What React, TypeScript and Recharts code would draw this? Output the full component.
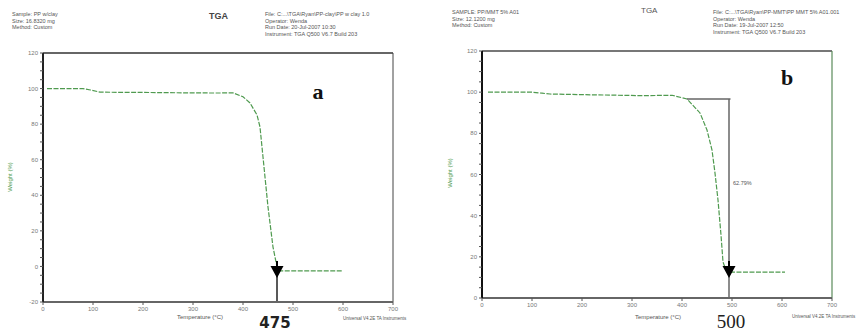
import { LineChart, Line, XAxis, YAxis, ReferenceLine, ReferenceDot } from "recharts"

const tempTicks = [0, 100, 200, 300, 400, 500, 600, 700]

// panel a
const tempA = [8, 40, 80, 95, 114, 150, 214, 280, 348, 380, 400, 414, 428, 434, 440, 450, 460, 468, 474, 500, 550, 598]
const weightA = [100, 100, 100, 99.2, 98.0, 97.9, 97.8, 97.6, 97.5, 97.6, 95.4, 91.9, 85.2, 78.4, 61.5, 33.4, 10.9, -0.3, -2.5, -2.5, -2.5, -2.5]
const weightTicksA = [-20, -15, -10, -5, 0, 5, 10, 15, 20, 25, 30, 35, 40, 45, 50, 55, 60, 65, 70, 75, 80, 85, 90, 95, 100, 105, 110, 115, 120]
const onsetA = 468

// panel b
const tempB = [12, 60, 100, 120, 136, 200, 322, 380, 410, 436, 450, 460, 466, 472, 478, 482, 488, 494, 506, 560, 606]
const weightB = [100, 100, 100, 99.5, 99.1, 98.8, 98.3, 98.5, 96.7, 89.9, 81.6, 71.9, 60.7, 47.6, 30.6, 17.5, 13.5, 12.6, 12.6, 12.6, 12.6]
const weightTicksB = [0, 5, 10, 15, 20, 25, 30, 35, 40, 45, 50, 55, 60, 65, 70, 75, 80, 85, 90, 95, 100, 105, 110, 115, 120]
const onsetB = 494
const lossTopB = 96.7

const dataA = tempA.map((t, i) => ({ t, w: weightA[i] }))
const dataB = tempB.map((t, i) => ({ t, w: weightB[i] }))

const green = "#4f9a4f"
const tickStyle = { fontSize: 6, fill: "#777", fontFamily: "Arial, sans-serif" }
const every20 = (v: number) => (v % 20 === 0 ? `${v}` : "")

const ArrowHead = (props: any) => {
  const { cx, cy } = props
  return <path d={`M${cx - 6.5},${cy - 12} L${cx + 6.5},${cy - 12} L${cx},${cy} Z M${cx - 1},${cy - 17} h2 v6 h-2 Z`} fill="#000" />
}

const small: React.CSSProperties = { position: "absolute", fontFamily: "Arial, sans-serif", fontSize: 5.5, color: "#555", lineHeight: "6.5px", whiteSpace: "nowrap" }

export default function App() {
  return (
    <div style={{ position: "fixed", left: 0, top: 0, width: 861, height: 331, background: "#fff", overflow: "hidden" }}>
      {/* headers */}
      <div style={{ ...small, left: 12, top: 11 }}>Sample: PP w/clay<br />Size: 16.8320 mg<br />Method: Custom</div>
      <div style={{ ...small, left: 209, top: 13, fontSize: 9, fontWeight: "bold", color: "#444" }}>TGA</div>
      <div style={{ ...small, left: 265, top: 11 }}>File: C:...\TGA\Ryan\PP-clay\PP w clay 1.0<br />Operator: Wenda<br />Run Date: 20-Jul-2007 10:30<br />Instrument: TGA Q500 V6.7 Build 203</div>

      <div style={{ ...small, left: 452, top: 9 }}>SAMPLE: PP/MMT 5% A01<br />Size: 12.1200 mg<br />Method: Custom</div>
      <div style={{ ...small, left: 641, top: 8, fontSize: 8, color: "#555" }}>TGA</div>
      <div style={{ ...small, left: 713, top: 9 }}>File: C:...\TGA\Ryan\PP-MMT\PP MMT 5% A01.001<br />Operator: Wenda<br />Run Date: 19-Jul-2007 12:50<br />Instrument: TGA Q500 V6.7 Build 203</div>

      <div style={{ position: "absolute", left: 0, top: 0 }}>
        <LineChart width={430} height={331} data={dataA} margin={{ top: 53, right: 37, bottom: 0, left: 0 }}>
          <XAxis dataKey="t" type="number" domain={[0, 700]} ticks={tempTicks} tick={tickStyle} tickSize={3}
            axisLine={{ stroke: "#666", strokeWidth: 2 }} tickLine={{ stroke: "#555" }} height={29} />
          <YAxis type="number" domain={[-20, 120]} ticks={weightTicksA} tickFormatter={every20} tick={tickStyle} tickSize={3}
            axisLine={{ stroke: "#222", strokeWidth: 2 }} tickLine={{ stroke: "#555" }} width={43} allowDataOverflow />
          <ReferenceLine y={120} stroke="#666" strokeWidth={2} />
          <ReferenceLine x={700} stroke="#444" strokeWidth={1} />
          <Line dataKey="w" stroke={green} strokeWidth={1.2} strokeDasharray="5 1.5" dot={false} isAnimationActive={false} />
          <ReferenceLine segment={[{ x: onsetA, y: 2 }, { x: onsetA, y: -20 }]} stroke="#222" strokeWidth={1.5} />
          <ReferenceDot x={onsetA} y={-6.5} shape={ArrowHead} />
        </LineChart>
      </div>

      <div style={{ position: "absolute", left: 430, top: 0 }}>
        <LineChart width={431} height={331} data={dataB} margin={{ top: 51, right: 29, bottom: 0, left: 0 }}>
          <XAxis dataKey="t" type="number" domain={[0, 700]} ticks={tempTicks} tick={tickStyle} tickSize={3}
            axisLine={{ stroke: "#666", strokeWidth: 2 }} tickLine={{ stroke: "#555" }} height={33} />
          <YAxis type="number" domain={[0, 120]} ticks={weightTicksB} tickFormatter={every20} tick={tickStyle} tickSize={3}
            axisLine={{ stroke: "#111", strokeWidth: 2 }} tickLine={{ stroke: "#555" }} width={52} />
          <ReferenceLine y={120} stroke="#777" strokeWidth={2} />
          <ReferenceLine x={700} stroke="#5a8a5a" strokeWidth={1.2} />
          <Line dataKey="w" stroke={green} strokeWidth={1.2} strokeDasharray="5 1.5" dot={false} isAnimationActive={false} />
          <ReferenceLine segment={[{ x: 410, y: lossTopB }, { x: onsetB + 3, y: lossTopB }]} stroke="#666" strokeWidth={1.5} />
          <ReferenceLine segment={[{ x: onsetB, y: lossTopB }, { x: onsetB, y: 0 }]} stroke="#666" strokeWidth={1.5} />
          <ReferenceDot x={onsetB} y={9.7} shape={ArrowHead} />
        </LineChart>
      </div>

      {/* axis titles */}
      <div style={{ ...small, left: 10, top: 177, fontSize: 6, color: green, transform: "translate(-50%,-50%) rotate(-90deg)" }}>Weight (%)</div>
      <div style={{ ...small, left: 450, top: 173, fontSize: 6, color: green, transform: "translate(-50%,-50%) rotate(-90deg)" }}>Weight (%)</div>
      <div style={{ ...small, left: 200, top: 317, fontSize: 6, transform: "translate(-50%,-50%)" }}>Temperature (°C)</div>
      <div style={{ ...small, left: 658, top: 317, fontSize: 6, transform: "translate(-50%,-50%)" }}>Temperature (°C)</div>
      <div style={{ ...small, left: 343, top: 316, fontSize: 4.5 }}>Universal V4.2E TA Instruments</div>
      <div style={{ ...small, left: 792, top: 314, fontSize: 4.5 }}>Universal V4.2E TA Instruments</div>

      {/* annotations */}
      <div style={{ position: "absolute", left: 318, top: 92, transform: "translate(-50%,-50%)", fontFamily: "'Liberation Serif', serif", fontWeight: "bold", fontSize: 22, color: "#111" }}>a</div>
      <div style={{ position: "absolute", left: 787, top: 78, transform: "translate(-50%,-50%)", fontFamily: "'Liberation Serif', serif", fontWeight: "bold", fontSize: 22, color: "#111" }}>b</div>
      <div style={{ position: "absolute", left: 275, top: 323, transform: "translate(-50%,-50%)", fontFamily: "'DejaVu Sans', sans-serif", fontWeight: "bold", fontSize: 15, color: "#222" }}>475</div>
      <div style={{ position: "absolute", left: 731, top: 322, transform: "translate(-50%,-50%)", fontFamily: "'Liberation Serif', serif", fontSize: 19, color: "#222" }}>500</div>
      <div style={{ ...small, left: 733, top: 180, fontSize: 5.5 }}>62.79%</div>
    </div>
  )
}
